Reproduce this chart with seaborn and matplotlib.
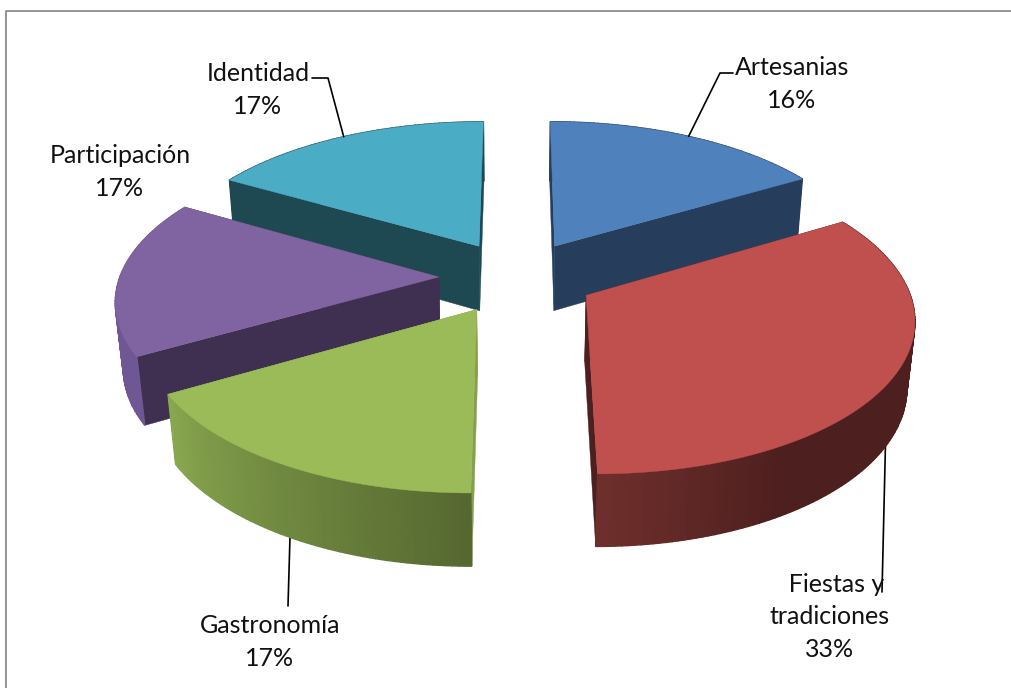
import numpy as np
import matplotlib
matplotlib.use("Agg")
import matplotlib.pyplot as plt
import seaborn as sns

# shares (labels are rounded)
labels = ["Artesanias", "Fiestas y", "Gastronomía", "Participación", "Identidad"]
values = [16.49, 33.49, 16.7, 16.66, 16.66]

top_colors = ["#4F81BD", "#C0504D", "#9BBB59", "#8064A2", "#4BACC6"]
face_colors = ["#263D5C", "#4D1F1E", "#84A04C", "#3F2F50", "#1E4852"]
wall_stops = [
    ["#263D5C", "#263D5C"],
    ["#4D1F1E", "#4D1F1E", "#4D1F1E", "#4D1F1E", "#6E2F2C"],
    ["#566830", "#88A74F"],
    ["#6E5792", "#6E5792"],
    ["#1E4852", "#1E4852"],
]

label_text = ["Artesanias\n16%", "  Fiestas y\ntradiciones\n33%", "Gastronomía\n17%",
              "Participación\n17%", "Identidad\n17%"]
label_pos = [(792, 84), (830, 617), (270, 642), (120, 172), (258, 90)]
# elbow of each leader line, None where the label has no line
elbows = [[(720, 73), (733, 73)], [(882, 592)], [(288, 606)], None, [(328, 78), (312, 78)]]

# projection of the tilted pie to pixels
CX, CY, A, B, H = 517, 277, 319, 149, 67
P, Q, EXPLODE = 0.135, 0.02, 0.245


def project(u, v, z=0.0):
    w = 1 + P * v + Q * z
    return CX + A * u / w, CY - B * v / w + H * z / w


sns.set_theme(style="white")
plt.rcParams["font.family"] = ["Lato", "DejaVu Sans"]

fig = plt.figure(figsize=(10.12, 6.88), dpi=100)
ax = fig.add_axes([0, 0, 1, 1])
ax.set_xlim(0, 1012)
ax.set_ylim(688, 0)
ax.axis("off")

# chart frame, only left and top show in the crop
ax.plot([6.5, 6.5, 1012], [688, 10.5, 10.5], color="#8C8C8C", lw=1.3, zorder=0)

edges = np.cumsum([0] + values) / np.sum(values) * 2 * np.pi
mids = (edges[:-1] + edges[1:]) / 2

# paint far wedges first
order = sorted(range(len(values)), key=lambda i: -np.cos(mids[i]))
zo = 2
for i in order:
    eu, ev = EXPLODE * np.sin(mids[i]), EXPLODE * np.cos(mids[i])
    n = max(int(np.degrees(edges[i + 1] - edges[i])), 2)
    theta = np.linspace(edges[i], edges[i + 1], n + 1)
    ru, rv = eu + np.sin(theta), ev + np.cos(theta)

    # the two flat cut faces
    for t in [edges[i], edges[i + 1]]:
        fu, fv = eu + np.sin(t), ev + np.cos(t)
        pts = [project(eu, ev), project(fu, fv), project(fu, fv, 1), project(eu, ev, 1)]
        ax.fill(*zip(*pts), color=face_colors[i], lw=0.3, zorder=zo)
    zo += 1

    # outer wall as thin strips so the shading can run along it
    strips = sns.blend_palette(wall_stops[i], n_colors=n)
    for k in range(n):
        pts = [project(ru[k], rv[k]), project(ru[k + 1], rv[k + 1]),
               project(ru[k + 1], rv[k + 1], 1), project(ru[k], rv[k], 1)]
        ax.fill(*zip(*pts), color=strips[k], lw=1.0, zorder=zo)
    zo += 1

    # top of the wedge
    tx, ty = project(np.r_[eu, ru], np.r_[ev, rv])
    ax.fill(tx, ty, color=top_colors[i], lw=0.3, zorder=zo)
    zo += 1

# leader lines start on the rim at the middle of each wedge
for i, elbow in enumerate(elbows):
    if elbow is None:
        continue
    eu, ev = EXPLODE * np.sin(mids[i]), EXPLODE * np.cos(mids[i])
    front = np.cos(mids[i]) < 0
    start = project(eu + np.sin(mids[i]), ev + np.cos(mids[i]), 1 if front else 0)
    xs, ys = zip(*([start] + elbow))
    ax.plot(xs, ys, color="black", lw=1.2, zorder=1 if front else zo)

for text, (x, y) in zip(label_text, label_pos):
    ax.text(x, y, text, ha="center", va="center", fontsize=18, color="#111111",
            linespacing=1.5, zorder=zo + 1)

fig.savefig("out.png", dpi=100)
